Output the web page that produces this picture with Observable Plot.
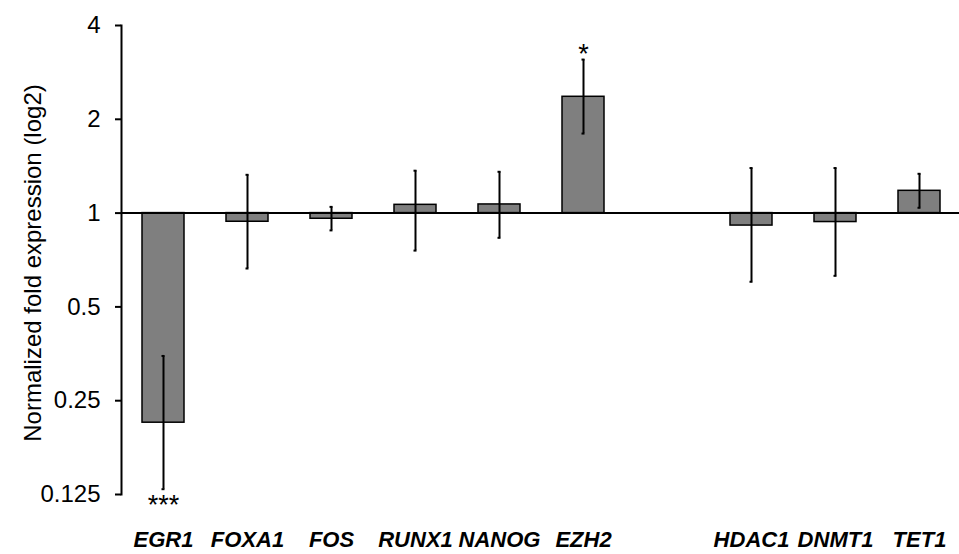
<!DOCTYPE html>
<html>
<head>
<meta charset="utf-8">
<script src="https://cdn.jsdelivr.net/npm/d3@7"></script>
<script src="https://cdn.jsdelivr.net/npm/@observablehq/plot@0.6"></script>
<style>
  html, body { margin: 0; padding: 0; background: #fff; }
  #chart svg { display: block; }
  #chart g[aria-label="x-axis tick label"] text { font-weight: bold; font-style: italic; }
</style>
</head>
<body>
<div id="chart"></div>
<script>
// Category slots (an empty slot separates the two gene groups)
const slots = ["EGR1", "FOXA1", "FOS", "RUNX1", "NANOG", "EZH2", " ", "HDAC1", "DNMT1", "TET1"];
const genes = ["EGR1", "FOXA1", "FOS", "RUNX1", "NANOG", "EZH2", "HDAC1", "DNMT1", "TET1"];
const foldValues = [0.2125, 0.938, 0.959, 1.063, 1.066, 2.362, 0.912, 0.936, 1.179];
const errLow  = [0.130, 0.664, 0.880, 0.758, 0.833, 1.80, 0.602, 0.629, 1.04];
const errHigh = [0.348, 1.327, 1.047, 1.368, 1.357, 3.11, 1.395, 1.395, 1.337];
const significance = ["***", "", "", "", "", "*", "", "", ""];
const yTicks = [0.125, 0.25, 0.5, 1, 2, 4];
const yTickLabels = ["0.125", "0.25", "0.5", "1", "2", "4"];
const yLabel = "Normalized fold expression (log2)";

const data = genes.map((g, i) => ({
  gene: g, value: foldValues[i], lo: errLow[i], hi: errHigh[i], sig: significance[i]
}));
const sigDown = data.filter(d => d.sig && d.value < 1);
const sigUp = data.filter(d => d.sig && d.value >= 1);

const font = "'Liberation Sans', Arial, sans-serif";

const chart = Plot.plot({
  width: 959,
  height: 554,
  marginLeft: 121,
  marginRight: 0,
  marginTop: 25,
  marginBottom: 60,
  style: { fontFamily: font, background: "#fff", color: "#000" },
  x: { type: "band", domain: slots, range: [121, 961], paddingInner: 0.5, paddingOuter: 0.25, align: 0.5 },
  y: { type: "log", base: 2, domain: [0.125, 4] },
  marks: [
    Plot.barY(data, { x: "gene", y1: 1, y2: "value", fill: "#7f7f7f", stroke: "#000", strokeWidth: 1.5 }),
    Plot.ruleY([1], { stroke: "#000", strokeWidth: 2 }),
    Plot.ruleX(data, { x: "gene", y1: "lo", y2: "hi", stroke: "#000", strokeWidth: 2 }),
    Plot.tickY(data, { x: "gene", y: "lo", stroke: "#000", strokeWidth: 2, insetLeft: 19.5, insetRight: 19.5 }),
    Plot.tickY(data, { x: "gene", y: "hi", stroke: "#000", strokeWidth: 2, insetLeft: 19.5, insetRight: 19.5 }),
    Plot.text(sigDown, { x: "gene", y: "lo", text: "sig", dy: 16, fontSize: 27, fill: "#000" }),
    Plot.text(sigUp, { x: "gene", y: "hi", text: "sig", dy: -5, fontSize: 27, fill: "#000" }),
    Plot.frame({ anchor: "left", stroke: "#000", strokeWidth: 2 }),
    Plot.axisY({
      ticks: yTicks,
      tickFormat: (d) => yTickLabels[yTicks.indexOf(d)],
      tickSize: 6,
      tickPadding: 15,
      strokeWidth: 2,
      fontSize: 24,
      label: null
    }),
    Plot.axisX({
      tickSize: 0,
      tickPadding: 37,
      fontSize: 22,
      fontWeight: "bold",
      fontStyle: "italic",
      label: null
    }),
    Plot.text([yLabel], { frameAnchor: "left", textAnchor: "middle", dx: -88, dy: 3, rotate: -90, fontSize: 24, fill: "#000" })
  ]
});

document.getElementById("chart").appendChild(chart);
</script>
</body>
</html>
